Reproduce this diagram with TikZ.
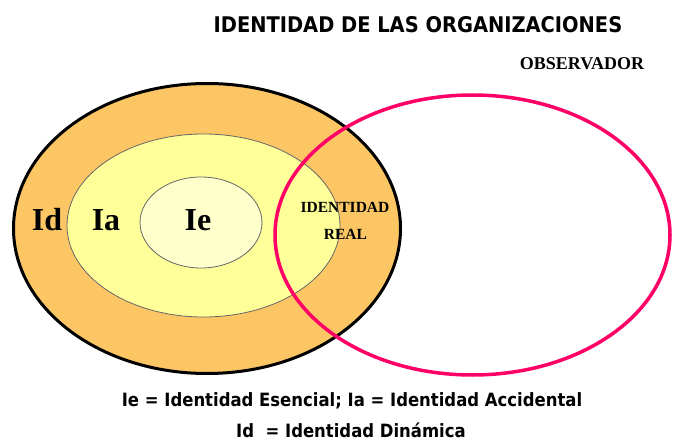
\documentclass[tikz,border=0pt]{standalone}
\usepackage{fontspec}
\setmainfont{Liberation Serif}
\newfontfamily\tah[FakeStretch=0.9]{DejaVu Sans}
\usetikzlibrary{shapes.geometric}
\definecolor{idorange}{RGB}{252,198,100}
\definecolor{iayellow}{RGB}{255,255,153}
\definecolor{ieyellow}{RGB}{255,255,204}
\definecolor{obspink}{RGB}{255,0,102}
\tikzset{
  ring/.style={ellipse, inner sep=0pt, draw=black!60, line width=0.8pt},
  serifbig/.style={anchor=base, font=\fontsize{32}{36}\selectfont\bfseries},
  serifsmall/.style={anchor=base, font=\fontsize{15.5}{18}\selectfont\bfseries},
  sanstext/.style={anchor=base, font=\tah\bfseries\fontsize{#1}{#1}\selectfont},
}
\begin{document}
\begin{tikzpicture}[x=1pt,y=-1pt]
\useasboundingbox (0,0) rectangle (673,444);
\node[ring, draw=black, line width=3pt, fill=idorange, minimum width=387pt, minimum height=290pt] (outer) at (207,228.5) {};
\node[ring, fill=iayellow, minimum width=273pt, minimum height=183pt] (middle) at (203.5,225.5) {};
\node[ring, fill=ieyellow, minimum width=122pt, minimum height=91pt] (inner) at (201,222.5) {};
\node[ellipse, inner sep=0pt, draw=obspink, line width=3.5pt, minimum width=395pt, minimum height=280pt] (obs) at (472.5,235) {};
\node[sanstext=21.6] (title) at (418,33) {IDENTIDAD DE LAS ORGANIZACIONES};
\node[anchor=base, font=\fontsize{18}{20}\selectfont\bfseries] (observador) at (582,70) {OBSERVADOR};
\node[serifbig] (id) at (47,230) {Id};
\node[serifbig] (ia) at (106,230) {Ia};
\node[serifbig] (ie) at (198,230) {Ie};
\node[serifsmall] (identidad) at (345,212) {IDENTIDAD};
\node[serifsmall] (real) at (345.5,239) {REAL};
\node[sanstext=18.3] (leg1) at (352,406.5) {Ie = Identidad Esencial; Ia = Identidad Accidental};
\node[sanstext=18.3] (leg2) at (351,437) {Id\ \ = Identidad Dinámica};
\end{tikzpicture}
\end{document}
